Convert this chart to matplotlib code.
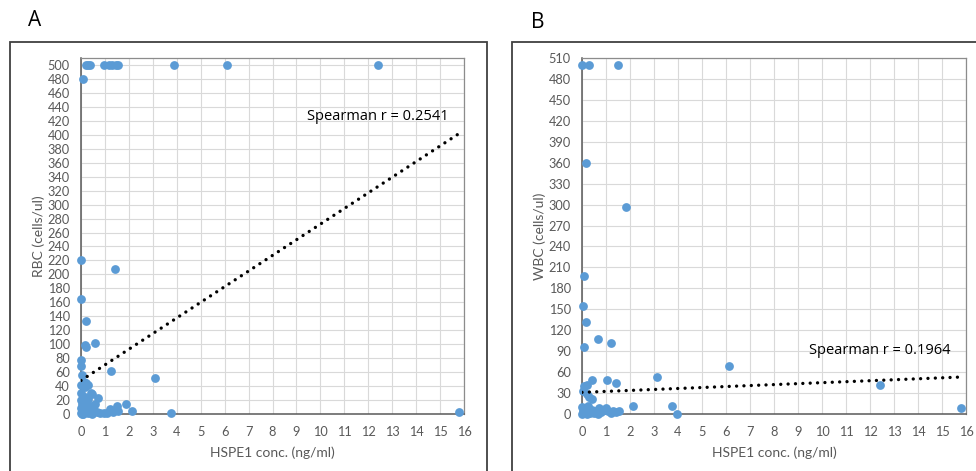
import matplotlib
matplotlib.use("Agg")
import matplotlib.pyplot as plt
from matplotlib.patches import Rectangle
import numpy as np

plt.rcParams['font.family'] = ['Lato', 'DejaVu Sans']

# ---------------- data ----------------
rbc_x = [0.2, 0.28, 0.38, 0.95, 1.15, 1.3, 1.45, 1.55, 3.9, 6.1, 12.4,
         0.08, 0.0, 1.4, 0.02, 0.22, 0.18, 0.2, 0.57, 0.0, 0.01, 1.25, 3.09,
         0.03, 0.0, 0.12, 0.2, 0.3, 0.15, 0.4, 0.45, 0.7, 1.86, 1.5, 2.12,
         3.75, 15.8, 0.95, 1.22, 1.35, 1.55, 0.0, 0.0, 0.05, 0.1, 0.2, 0.3,
         0.0, 0.05, 0.15, 0.25, 0.35, 0.5, 0.6, 0.65, 0.8, 0.45, 0.3, 0.1,
         0.4, 1.1, 0.0]
rbc_y = [500, 500, 500, 500, 500, 500, 500, 500, 500, 500, 500,
         480, 220, 208, 165, 133, 99, 96, 102, 78, 69, 62, 51,
         56, 42, 46, 44, 41, 38, 30, 28, 23, 15, 11, 5,
         2, 3, 1, 7, 3, 4, 30, 20, 15, 10, 5, 2,
         2, 0, 25, 18, 12, 8, 15, 3, 2, 0, 22, 0,
         6, 2, 8]

wbc_x = [0.0, 0.28, 1.52, 0.15, 1.85, 0.1, 0.04, 0.15, 0.65, 1.2, 0.1,
         6.13, 3.13, 0.43, 1.04, 1.42, 12.4, 0.1, 0.2, 0.03, 0.3, 0.43, 0.2,
         2.14, 3.75, 3.95, 15.78,
         0.0, 0.05, 0.1, 0.15, 0.2, 0.3, 0.4, 0.5, 0.6, 0.7, 0.8, 0.9, 1.0,
         1.1, 1.2, 1.3, 1.4, 1.55, 0.25, 0.0, 0.35, 0.65]
wbc_y = [500, 500, 500, 360, 297, 197, 155, 132, 108, 102, 96,
         69, 53, 48, 48, 45, 42, 40, 42, 33, 25, 22, 28,
         11, 11, 0, 8,
         10, 5, 2, 8, 0, 4, 6, 2, 5, 8, 3, 6, 9,
         4, 1, 5, 3, 5, 12, 0, 1, 0]

# linear trendline (intercept, slope)
rbc_trend = (48.0, 22.4)
wbc_trend = (31.0, 1.39)
trend_range = (0.0, 15.8)

x_ticks = list(range(0, 17))
rbc_yticks = list(range(0, 501, 20))
wbc_yticks = list(range(0, 511, 30))

panel_letters = ["A", "B"]
rbc_label = "RBC (cells/ul)"
wbc_label = "WBC (cells/ul)"
x_label = "HSPE1 conc. (ng/ml)"
rbc_text = "Spearman r = 0.2541"
wbc_text = "Spearman r = 0.1964"

# ---------------- figure ----------------
W, H = 976, 471
fig = plt.figure(figsize=(W / 100, H / 100), dpi=100)

def fx(px):
    return px / W

def fy(py):
    return 1 - py / H

blue = '#5B9BD5'
tick_color = '#595959'

# outer panel boxes
for (x0, x1) in [(10, 487), (512, 990)]:
    r = Rectangle((fx(x0), fy(480)), fx(x1) - fx(x0), fy(42) - fy(480),
                  transform=fig.transFigure, fill=False, edgecolor='#404040',
                  linewidth=1.3, clip_on=False)
    fig.add_artist(r)

fig.text(fx(35), fy(21), panel_letters[0], fontsize=15, ha='center', va='center',
         family=['Open Sans', 'DejaVu Sans'])
fig.text(fx(538), fy(22), panel_letters[1], fontsize=15, ha='center', va='center',
         family=['Open Sans', 'DejaVu Sans'])

def make_axes(left_px, right_px, xs, ys, yticks, ylabel, trend, text, text_xy):
    ax = fig.add_axes([fx(left_px), fy(414), fx(right_px) - fx(left_px), fy(58) - fy(414)])
    ax.set_xlim(0, 16)
    ax.set_ylim(0, 510)
    ax.set_xticks(x_ticks)
    ax.set_yticks(yticks)
    ax.set_xticklabels([str(t) for t in x_ticks])
    ax.set_yticklabels([str(t) for t in yticks])
    ax.grid(True, color='#D9D9D9', linewidth=0.8)
    ax.set_axisbelow(True)
    ax.tick_params(length=0, labelsize=9.2, colors=tick_color)
    ax.tick_params(axis='y', pad=8)
    ax.tick_params(axis='x', pad=9)
    for s in ['top', 'right']:
        ax.spines[s].set_color('#8C8C8C')
        ax.spines[s].set_linewidth(0.9)
    for s in ['left', 'bottom']:
        ax.spines[s].set_color('#595959')
        ax.spines[s].set_linewidth(1.1)
    ax.scatter(xs, ys, s=40, color=blue, zorder=3, linewidths=0, clip_on=False)
    tx = np.array(trend_range)
    ty = trend[0] + trend[1] * tx
    ax.plot(tx, ty, color='black', linewidth=2.4, linestyle=(0, (0.01, 2.2)),
            dash_capstyle='round', zorder=4)
    ax.set_xlabel(x_label, fontsize=10, color=tick_color, labelpad=6)
    ax.set_ylabel(ylabel, fontsize=10, color=tick_color, labelpad=2)
    fig.text(fx(text_xy[0]), fy(text_xy[1]), text, fontsize=10.5, ha='center',
             va='center', color='black', family=['Open Sans', 'DejaVu Sans'])
    return ax

make_axes(81, 464, rbc_x, rbc_y, rbc_yticks, rbc_label, rbc_trend, rbc_text, (378, 117))
make_axes(582, 966, wbc_x, wbc_y, wbc_yticks, wbc_label, wbc_trend, wbc_text, (880, 351))

fig.savefig('out.png', dpi=100)
